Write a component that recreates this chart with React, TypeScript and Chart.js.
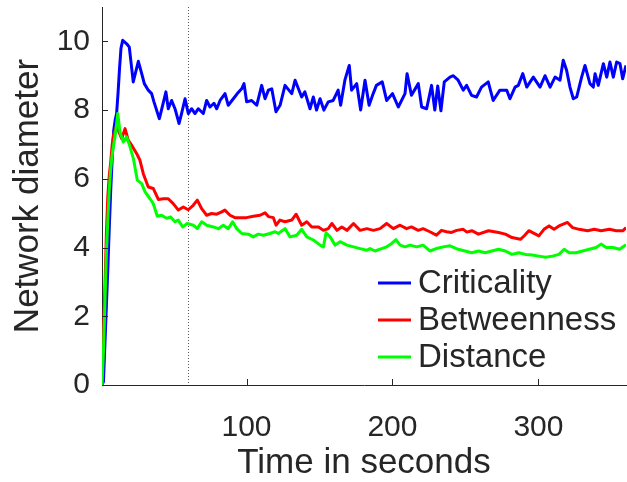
import React, { useEffect, useRef } from "react";
import { Chart, registerables } from "chart.js";

Chart.register(...registerables);

// ---------- data ----------
const tBlue = [1, 2, 3, 4, 5, 6, 7, 8, 9, 10, 11, 12, 13, 14, 15.2, 17.9, 19.7, 22.4, 25.9, 28.2, 30, 32.7, 35, 36.6, 40.3, 42, 44.8, 46.4, 48.7, 51, 53.8, 55.5, 57.9, 60.1, 62.4, 64.7, 67, 70.4, 72.7, 75, 77.7, 79.6, 81.9, 85.3, 87.5, 91, 93.7, 96.7, 98.3, 100.1, 103.5, 107, 110.4, 112.7, 115, 117.3, 120.2, 123, 126.4, 131, 133.3, 137.8, 140, 143.5, 145.8, 148, 150.4, 153, 156, 159.4, 162.8, 164.5, 167.4, 170.4, 172, 175.5, 178.2, 181.2, 184, 186.8, 189, 193, 196, 200, 204, 208.6, 210, 213, 217.7, 220, 223.4, 226.8, 229, 231, 233.2, 235.5, 239.4, 241.7, 245, 248.5, 250.8, 254.2, 257.6, 261, 265.6, 269, 273.6, 278.3, 280.5, 284, 286.2, 289.3, 292, 296.5, 301.1, 304.5, 308, 311.4, 314.8, 317, 319.3, 321.6, 323.9, 326.2, 329.6, 331.9, 335.3, 337.6, 338.8, 341, 344.5, 346.8, 349, 351.3, 353.6, 355.9, 357.7, 360];
const criticality = [0, 0.1, 1.2, 2.3, 3.4, 4.6, 5.7, 6.6, 7.4, 7.7, 7.9, 8.5, 9.2, 9.8, 10.03, 9.93, 9.83, 8.82, 9.42, 9.06, 8.77, 8.58, 8.48, 8.24, 7.75, 8.04, 8.53, 8.04, 8.28, 8.04, 7.61, 7.9, 8.33, 7.9, 8.04, 7.9, 8.04, 7.9, 8.28, 8.09, 8.2, 8.04, 8.28, 8.48, 8.14, 8.33, 8.48, 8.62, 8.77, 8.24, 8.28, 8.14, 8.72, 8.33, 8.58, 8.62, 7.95, 8.14, 8.72, 8.48, 8.87, 8.38, 8.53, 8.04, 8.38, 8.0, 8.33, 8.0, 8.24, 8.28, 8.58, 8.14, 8.87, 9.3, 8.58, 8.77, 8.0, 8.87, 8.14, 8.48, 8.72, 8.82, 8.28, 8.48, 8.09, 8.48, 9.06, 8.43, 8.77, 8.09, 8.04, 8.72, 8.0, 8.7, 7.98, 8.82, 8.96, 9.0, 8.87, 8.58, 8.72, 8.43, 8.38, 8.67, 8.82, 8.28, 8.58, 8.58, 8.33, 8.67, 8.72, 9.06, 8.67, 8.96, 8.67, 9.0, 8.67, 8.96, 8.87, 9.45, 9.16, 8.67, 8.33, 8.38, 8.96, 9.3, 8.77, 8.67, 9.06, 8.72, 9.35, 8.96, 9.4, 8.96, 9.4, 9.35, 8.91, 9.3];

const tRed = [1, 2, 3, 4, 5, 6, 7, 8, 9, 10, 11, 12.2, 14.5, 16.8, 19, 21.3, 24.8, 27, 29.3, 32.7, 36.1, 39.6, 43, 46.4, 49.8, 53.3, 56.7, 60.1, 63.5, 66.3, 69.3, 72.7, 76.1, 79.6, 83, 85.2, 88.7, 92.1, 95.5, 100, 104.7, 109.3, 112.7, 115, 118.4, 120.3, 122.9, 126.4, 131, 134, 137.8, 141.3, 144.7, 149.3, 152.7, 156, 158.5, 162, 165.3, 168.8, 173.3, 177.8, 182.4, 187, 191.5, 196, 200.6, 205.2, 209.7, 213, 217.7, 221, 225.6, 230.1, 233.6, 237, 240.5, 244, 248.5, 251, 254.3, 258.9, 265.8, 272.7, 277.3, 281.9, 287.7, 290.5, 293.4, 298, 300.3, 303.8, 307.3, 310.7, 314.1, 319.9, 323.4, 327.9, 333.7, 338.3, 342.9, 348.7, 353.3, 357.9, 360];
const betweenness = [0, 1.5, 2.8, 4.4, 5.5, 6.1, 6.5, 7.0, 7.3, 7.4, 7.55, 7.41, 7.17, 7.46, 7.12, 6.98, 6.73, 6.54, 6.15, 5.76, 5.72, 5.4, 5.42, 5.42, 5.28, 5.09, 5.18, 5.1, 5.23, 5.38, 5.13, 4.94, 4.99, 4.97, 5.04, 5.09, 4.94, 4.87, 4.87, 4.87, 4.91, 4.94, 5.01, 4.9, 4.87, 4.65, 4.8, 4.75, 4.8, 4.97, 4.65, 4.75, 4.6, 4.6, 4.5, 4.55, 4.7, 4.5, 4.6, 4.5, 4.7, 4.5, 4.55, 4.5, 4.55, 4.7, 4.55, 4.65, 4.55, 4.6, 4.5, 4.55, 4.46, 4.36, 4.5, 4.46, 4.44, 4.5, 4.53, 4.45, 4.49, 4.39, 4.49, 4.44, 4.39, 4.29, 4.24, 4.35, 4.49, 4.39, 4.34, 4.53, 4.63, 4.53, 4.63, 4.73, 4.58, 4.53, 4.49, 4.53, 4.49, 4.53, 4.49, 4.49, 4.58];

const tGreen = [1, 2, 3, 4, 5, 6, 7, 8, 9, 10, 11, 11.8, 13.3, 15.6, 17.9, 20.2, 22.5, 25.2, 28.2, 30.5, 33.9, 36.1, 38.9, 41.8, 45.3, 48, 51, 53.2, 56.3, 59.4, 63.5, 66.3, 69.3, 72.7, 77.3, 80.7, 84.1, 87.5, 90.5, 93.3, 96.7, 101.3, 104.7, 108.1, 111.5, 116, 119.5, 121.8, 126.4, 129.8, 134.4, 137.8, 141.3, 145.8, 150.4, 152.7, 154.5, 157.3, 160.7, 164.1, 168.8, 173.3, 177.8, 182.4, 184.6, 188, 192.6, 196, 199.5, 202.4, 205.2, 208.6, 212, 216.6, 221, 225.6, 230, 234.8, 239.4, 245, 249.7, 254.3, 258.9, 263.5, 268, 272.7, 277.3, 281.9, 286.5, 291.1, 295.7, 300.3, 304.9, 309.6, 314.1, 317.6, 321.1, 325.7, 330.3, 334.9, 339.5, 342.9, 346.4, 351, 355.6, 360];
const distance = [0, 1.0, 2.4, 3.8, 4.8, 5.7, 6.3, 6.7, 7.0, 7.25, 7.6, 7.9, 7.36, 7.07, 7.22, 6.93, 6.59, 5.96, 5.86, 5.62, 5.42, 5.28, 4.91, 4.94, 4.85, 4.89, 4.75, 4.8, 4.6, 4.7, 4.65, 4.55, 4.75, 4.65, 4.6, 4.55, 4.65, 4.55, 4.75, 4.55, 4.41, 4.39, 4.31, 4.39, 4.36, 4.41, 4.46, 4.41, 4.55, 4.31, 4.36, 4.53, 4.31, 4.22, 4.07, 4.02, 4.43, 4.31, 4.07, 4.17, 4.07, 4.02, 3.97, 3.92, 3.97, 3.9, 3.97, 4.02, 4.12, 4.23, 4.07, 4.02, 4.07, 4.02, 4.07, 3.9, 3.97, 4.02, 4.05, 3.95, 3.9, 3.85, 3.9, 3.85, 3.9, 3.95, 3.9, 3.8, 3.85, 3.8, 3.78, 3.75, 3.72, 3.75, 3.8, 3.95, 3.85, 3.85, 3.9, 3.95, 4.0, 4.1, 4.0, 4.0, 3.95, 4.08];

const seriesNames = ["Criticality", "Betweenness", "Distance"];
const seriesColors = ["#0000ff", "#ff0000", "#00ff00"];
const xTicks = [100, 200, 300];
const yTicks = [0, 2, 4, 6, 8, 10];
const markerTime = 60;

const FONT = "'Liberation Sans', Arial, Helvetica, sans-serif";
const TEXT = "#262626";

const toPoints = (ts: number[], vs: number[]) => ts.map((t, i) => ({ x: t, y: vs[i] }));

const decorPlugin = {
  id: "decor",
  beforeDatasetsDraw(chart: any) {
    const { ctx, chartArea, scales } = chart;
    const x = scales.x.getPixelForValue(markerTime);
    ctx.save();
    ctx.strokeStyle = "#5a5a5a";
    ctx.lineWidth = 1;
    ctx.setLineDash([1, 2]);
    ctx.beginPath();
    ctx.moveTo(Math.round(x) + 0.5, chartArea.top);
    ctx.lineTo(Math.round(x) + 0.5, chartArea.bottom);
    ctx.stroke();
    ctx.restore();
  },
  afterDraw(chart: any) {
    const { ctx, chartArea, scales } = chart;
    ctx.save();
    ctx.strokeStyle = TEXT;
    ctx.lineWidth = 1;
    ctx.beginPath();
    xTicks.forEach((v) => {
      const px = Math.round(scales.x.getPixelForValue(v)) + 0.5;
      ctx.moveTo(px, chartArea.bottom);
      ctx.lineTo(px, chartArea.bottom - 6);
    });
    yTicks.forEach((v) => {
      const py = Math.round(scales.y.getPixelForValue(v)) + 0.5;
      ctx.moveTo(chartArea.left, py);
      ctx.lineTo(chartArea.left + 6, py);
    });
    ctx.stroke();

    // legend
    const lx0 = 378, lx1 = 411, tx = 418;
    const rows = [283, 320, 357];
    ctx.font = `33px ${FONT}`;
    ctx.textBaseline = "middle";
    ctx.textAlign = "left";
    seriesNames.forEach((name, i) => {
      ctx.strokeStyle = seriesColors[i];
      ctx.lineWidth = 3;
      ctx.beginPath();
      ctx.moveTo(lx0, rows[i]);
      ctx.lineTo(lx1, rows[i]);
      ctx.stroke();
      ctx.fillStyle = TEXT;
      ctx.fillText(name, tx, rows[i] + 1);
    });
    ctx.restore();
  },
};

export default function App() {
  const ref = useRef<HTMLCanvasElement | null>(null);
  useEffect(() => {
    if (!ref.current) return;
    const chart = new Chart(ref.current, {
      type: "line",
      data: {
        datasets: [
          { label: seriesNames[0], data: toPoints(tBlue, criticality), borderColor: seriesColors[0], order: 3 },
          { label: seriesNames[1], data: toPoints(tRed, betweenness), borderColor: seriesColors[1], order: 2 },
          { label: seriesNames[2], data: toPoints(tGreen, distance), borderColor: seriesColors[2], order: 1 },
        ].map((d) => ({ ...d, borderWidth: 3, pointRadius: 0, tension: 0, fill: false, borderJoinStyle: "round" as const })),
      },
      options: {
        animation: false,
        responsive: false,
        devicePixelRatio: 1,
        layout: { padding: { top: 7, right: 1, left: 0, bottom: 0 } },
        plugins: { legend: { display: false }, tooltip: { enabled: false } },
        scales: {
          x: {
            type: "linear",
            min: 1,
            max: 360,
            grid: { display: false, drawTicks: false },
            border: { display: true, color: TEXT, width: 1 },
            afterBuildTicks: (s: any) => { s.ticks = xTicks.map((v) => ({ value: v })); },
            afterFit: (s: any) => { s.height = 97; s.paddingLeft = 0; s.paddingRight = 0; },
            ticks: { color: TEXT, font: { family: FONT, size: 30, lineHeight: 1.2 }, padding: 25, maxRotation: 0 },
            title: { display: true, text: "Time in seconds", color: TEXT, font: { family: FONT, size: 35, lineHeight: 1 }, padding: { top: 0, bottom: 1.5 } },
          },
          y: {
            type: "linear",
            min: 0,
            max: 11,
            grid: { display: false, drawTicks: false },
            border: { display: true, color: TEXT, width: 1 },
            afterBuildTicks: (s: any) => { s.ticks = yTicks.map((v) => ({ value: v })); },
            afterFit: (s: any) => { s.width = 102; s.paddingTop = 0; s.paddingBottom = 0; },
            ticks: { color: TEXT, font: { family: FONT, size: 30, lineHeight: 1.2 }, padding: 12 },
            title: { display: true, text: "Network diameter", color: TEXT, font: { family: FONT, size: 35, lineHeight: 1.2 }, padding: { top: 7, bottom: 0 } },
          },
        },
      },
      plugins: [decorPlugin],
    } as any);
    return () => chart.destroy();
  }, []);
  return (
    <div style={{ position: "fixed", left: 0, top: 0, width: 627, height: 482, background: "#fff" }}>
      <canvas ref={ref} width={627} height={482} />
    </div>
  );
}
